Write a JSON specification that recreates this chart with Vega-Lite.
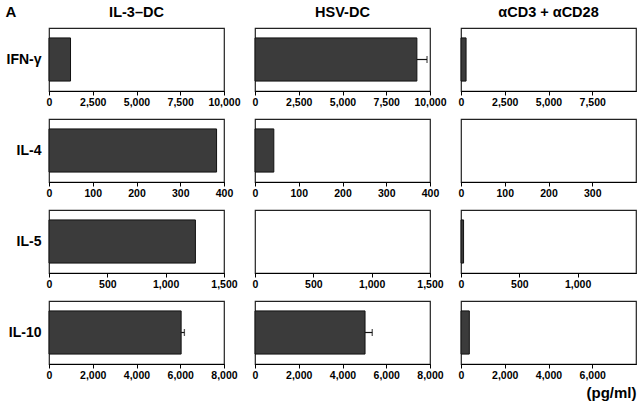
{
  "$schema": "https://vega.github.io/schema/vega-lite/v6.json",
  "padding": {"left": 5, "top": 3, "right": 3, "bottom": 3},
  "background": "white",
  "title": {"text": "A", "anchor": "start", "offset": -16, "fontSize": 15},
  "data": {"values": [
    {"cytokine": "IFN-γ", "cond": "IL-3–DC", "value": 1230, "hi": null},
    {"cytokine": "IFN-γ", "cond": "HSV-DC", "value": 9250, "hi": 9830},
    {"cytokine": "IFN-γ", "cond": "αCD3 + αCD28", "value": 290, "hi": null},
    {"cytokine": "IL-4", "cond": "IL-3–DC", "value": 383, "hi": null},
    {"cytokine": "IL-4", "cond": "HSV-DC", "value": 43, "hi": null},
    {"cytokine": "IL-4", "cond": "αCD3 + αCD28", "value": 0, "hi": null},
    {"cytokine": "IL-5", "cond": "IL-3–DC", "value": 1255, "hi": null},
    {"cytokine": "IL-5", "cond": "HSV-DC", "value": 0, "hi": null},
    {"cytokine": "IL-5", "cond": "αCD3 + αCD28", "value": 22, "hi": null},
    {"cytokine": "IL-10", "cond": "IL-3–DC", "value": 6040, "hi": 6190},
    {"cytokine": "IL-10", "cond": "HSV-DC", "value": 5030, "hi": 5360},
    {"cytokine": "IL-10", "cond": "αCD3 + αCD28", "value": 380, "hi": null}
  ]},
  "columns": 3,
  "bounds": "flush",
  "spacing": {"row": 28, "column": 31},
  "concat": [
    {
      "width": 175, "height": 63,
      "title": {"text": "IL-3–DC"},
      "transform": [{"filter": "datum.cytokine === 'IFN-γ' && datum.cond === 'IL-3–DC'"}],
      "mark": {"type": "bar", "fill": "#3b3b3b", "stroke": "#111", "strokeWidth": 1},
      "encoding": {
        "y": {"field": "cytokine", "type": "nominal", "scale": {"paddingInner": 0, "paddingOuter": 0.23},
              "axis": {"title": null, "ticks": false, "domain": false, "labelPadding": 8}},
        "x": {"field": "value", "type": "quantitative", "scale": {"domain": [0, 10000], "nice": false}, "axis": {"values": [0, 2500, 5000, 7500, 10000], "title": null}}
      }
    },
    {
      "width": 175, "height": 63,
      "title": {"text": "HSV-DC"},
      "transform": [{"filter": "datum.cytokine === 'IFN-γ' && datum.cond === 'HSV-DC'"}],
      "encoding": {
        "y": {"field": "cytokine", "type": "nominal", "scale": {"paddingInner": 0, "paddingOuter": 0.23}, "axis": null},
        "x": {"field": "value", "type": "quantitative", "scale": {"domain": [0, 10000], "nice": false}, "axis": {"values": [0, 2500, 5000, 7500, 10000], "title": null}}
      },
      "layer": [
        {"mark": {"type": "bar", "fill": "#3b3b3b", "stroke": "#111", "strokeWidth": 1}},
        {"mark": {"type": "rule", "color": "#111", "strokeWidth": 1.2}, "encoding": {"x2": {"field": "hi"}}},
        {"mark": {"type": "tick", "color": "#111", "orient": "vertical", "size": 7, "thickness": 1.3}, "encoding": {"x": {"field": "hi", "type": "quantitative", "title": null}}}
      ]
    },
    {
      "width": 175, "height": 63,
      "title": {"text": "αCD3 + αCD28"},
      "transform": [{"filter": "datum.cytokine === 'IFN-γ' && datum.cond === 'αCD3 + αCD28'"}],
      "mark": {"type": "bar", "fill": "#3b3b3b", "stroke": "#111", "strokeWidth": 1},
      "encoding": {
        "y": {"field": "cytokine", "type": "nominal", "scale": {"paddingInner": 0, "paddingOuter": 0.23}, "axis": null},
        "x": {"field": "value", "type": "quantitative", "scale": {"domain": [0, 10000], "nice": false}, "axis": {"values": [0, 2500, 5000, 7500], "title": null}}
      }
    },
    {
      "width": 175, "height": 63,
      "transform": [{"filter": "datum.cytokine === 'IL-4' && datum.cond === 'IL-3–DC'"}],
      "mark": {"type": "bar", "fill": "#3b3b3b", "stroke": "#111", "strokeWidth": 1},
      "encoding": {
        "y": {"field": "cytokine", "type": "nominal", "scale": {"paddingInner": 0, "paddingOuter": 0.23},
              "axis": {"title": null, "ticks": false, "domain": false, "labelPadding": 8}},
        "x": {"field": "value", "type": "quantitative", "scale": {"domain": [0, 400], "nice": false}, "axis": {"values": [0, 100, 200, 300, 400], "title": null}}
      }
    },
    {
      "width": 175, "height": 63,
      "transform": [{"filter": "datum.cytokine === 'IL-4' && datum.cond === 'HSV-DC'"}],
      "mark": {"type": "bar", "fill": "#3b3b3b", "stroke": "#111", "strokeWidth": 1},
      "encoding": {
        "y": {"field": "cytokine", "type": "nominal", "scale": {"paddingInner": 0, "paddingOuter": 0.23}, "axis": null},
        "x": {"field": "value", "type": "quantitative", "scale": {"domain": [0, 400], "nice": false}, "axis": {"values": [0, 100, 200, 300, 400], "title": null}}
      }
    },
    {
      "width": 175, "height": 63,
      "transform": [{"filter": "datum.cytokine === 'IL-4' && datum.cond === 'αCD3 + αCD28'"}],
      "mark": {"type": "bar", "fill": "#3b3b3b", "stroke": null, "strokeWidth": 0},
      "encoding": {
        "y": {"field": "cytokine", "type": "nominal", "scale": {"paddingInner": 0, "paddingOuter": 0.23}, "axis": null},
        "x": {"field": "value", "type": "quantitative", "scale": {"domain": [0, 400], "nice": false}, "axis": {"values": [0, 100, 200, 300], "title": null}}
      }
    },
    {
      "width": 175, "height": 63,
      "transform": [{"filter": "datum.cytokine === 'IL-5' && datum.cond === 'IL-3–DC'"}],
      "mark": {"type": "bar", "fill": "#3b3b3b", "stroke": "#111", "strokeWidth": 1},
      "encoding": {
        "y": {"field": "cytokine", "type": "nominal", "scale": {"paddingInner": 0, "paddingOuter": 0.23},
              "axis": {"title": null, "ticks": false, "domain": false, "labelPadding": 8}},
        "x": {"field": "value", "type": "quantitative", "scale": {"domain": [0, 1500], "nice": false}, "axis": {"values": [0, 500, 1000, 1500], "title": null}}
      }
    },
    {
      "width": 175, "height": 63,
      "transform": [{"filter": "datum.cytokine === 'IL-5' && datum.cond === 'HSV-DC'"}],
      "mark": {"type": "bar", "fill": "#3b3b3b", "stroke": null, "strokeWidth": 0},
      "encoding": {
        "y": {"field": "cytokine", "type": "nominal", "scale": {"paddingInner": 0, "paddingOuter": 0.23}, "axis": null},
        "x": {"field": "value", "type": "quantitative", "scale": {"domain": [0, 1500], "nice": false}, "axis": {"values": [0, 500, 1000, 1500], "title": null}}
      }
    },
    {
      "width": 175, "height": 63,
      "transform": [{"filter": "datum.cytokine === 'IL-5' && datum.cond === 'αCD3 + αCD28'"}],
      "mark": {"type": "bar", "fill": "#3b3b3b", "stroke": "#111", "strokeWidth": 1},
      "encoding": {
        "y": {"field": "cytokine", "type": "nominal", "scale": {"paddingInner": 0, "paddingOuter": 0.23}, "axis": null},
        "x": {"field": "value", "type": "quantitative", "scale": {"domain": [0, 1500], "nice": false}, "axis": {"values": [0, 500, 1000], "title": null}}
      }
    },
    {
      "width": 175, "height": 63,
      "transform": [{"filter": "datum.cytokine === 'IL-10' && datum.cond === 'IL-3–DC'"}],
      "encoding": {
        "y": {"field": "cytokine", "type": "nominal", "scale": {"paddingInner": 0, "paddingOuter": 0.23},
              "axis": {"title": null, "ticks": false, "domain": false, "labelPadding": 8}},
        "x": {"field": "value", "type": "quantitative", "scale": {"domain": [0, 8000], "nice": false}, "axis": {"values": [0, 2000, 4000, 6000, 8000], "title": null}}
      },
      "layer": [
        {"mark": {"type": "bar", "fill": "#3b3b3b", "stroke": "#111", "strokeWidth": 1}},
        {"mark": {"type": "rule", "color": "#111", "strokeWidth": 1.2}, "encoding": {"x2": {"field": "hi"}}},
        {"mark": {"type": "tick", "color": "#111", "orient": "vertical", "size": 7, "thickness": 1.3}, "encoding": {"x": {"field": "hi", "type": "quantitative", "title": null}}}
      ]
    },
    {
      "width": 175, "height": 63,
      "transform": [{"filter": "datum.cytokine === 'IL-10' && datum.cond === 'HSV-DC'"}],
      "encoding": {
        "y": {"field": "cytokine", "type": "nominal", "scale": {"paddingInner": 0, "paddingOuter": 0.23}, "axis": null},
        "x": {"field": "value", "type": "quantitative", "scale": {"domain": [0, 8000], "nice": false}, "axis": {"values": [0, 2000, 4000, 6000, 8000], "title": null}}
      },
      "layer": [
        {"mark": {"type": "bar", "fill": "#3b3b3b", "stroke": "#111", "strokeWidth": 1}},
        {"mark": {"type": "rule", "color": "#111", "strokeWidth": 1.2}, "encoding": {"x2": {"field": "hi"}}},
        {"mark": {"type": "tick", "color": "#111", "orient": "vertical", "size": 7, "thickness": 1.3}, "encoding": {"x": {"field": "hi", "type": "quantitative", "title": null}}}
      ]
    },
    {
      "width": 175, "height": 63,
      "transform": [{"filter": "datum.cytokine === 'IL-10' && datum.cond === 'αCD3 + αCD28'"}],
      "mark": {"type": "bar", "fill": "#3b3b3b", "stroke": "#111", "strokeWidth": 1},
      "encoding": {
        "y": {"field": "cytokine", "type": "nominal", "scale": {"paddingInner": 0, "paddingOuter": 0.23}, "axis": null},
        "x": {"field": "value", "type": "quantitative", "scale": {"domain": [0, 8000], "nice": false},
              "axis": {"values": [0, 2000, 4000, 6000], "title": "(pg/ml)", "titleAnchor": "end", "titleFontSize": 15, "titleFontWeight": "bold", "titlePadding": 5}}
      }
    }
  ],
  "config": {
    "font": "Liberation Sans",
    "view": {"stroke": "#222", "strokeWidth": 1.2},
    "axis": {"domainColor": "#000", "tickColor": "#000", "labelColor": "#000", "titleColor": "#000", "labelFontWeight": "bold", "grid": false, "labelOverlap": false},
    "axisX": {"labelFontSize": 10.5, "tickSize": 4, "labelPadding": 2, "labelFlush": false, "format": ",d"},
    "axisY": {"labelFontSize": 14},
    "title": {"fontSize": 14.5, "fontWeight": "bold", "color": "#000", "offset": 8}
  }
}
